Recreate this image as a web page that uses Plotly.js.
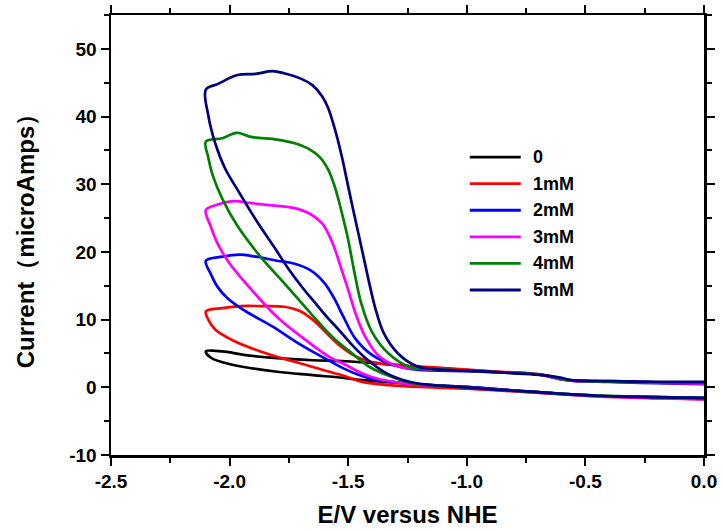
<!DOCTYPE html>
<html>
<head>
<meta charset="utf-8">
<script src="https://cdn.plot.ly/plotly-3.0.1.min.js"></script>
<style>
  html, body { margin: 0; padding: 0; background: #fff; }
  #chart { width: 723px; height: 531px; }
</style>
</head>
<body>
<div id="chart"></div>
<script>
// Cyclic voltammograms: current vs potential for increasing concentration.
// Each loop = cathodic-going branch (0 V -> -2.1 V) + return branch (-2.1 V -> 0 V).

const seriesNames  = ['0', '1mM', '2mM', '3mM', '4mM', '5mM'];
const seriesColors = ['#000000', '#ff0000', '#0000ff', '#ff00ff', '#008000', '#000080'];

// 0
const lowerV0 = [0.0, -0.2, -0.45, -0.73, -1.0, -1.2, -1.3, -1.44, -1.51, -1.65, -1.8, -1.94, -2.03, -2.08, -2.10];
const lowerI0 = [-1.6, -1.45, -1.25, -0.65, 0.05, 0.45, 0.7, 1.05, 1.35, 1.8, 2.3, 3.0, 3.7, 4.4, 5.3];
const upperV0 = [-2.10, -2.03, -1.94, -1.8, -1.65, -1.51, -1.4, -1.3, -1.2, -1.0, -0.86, -0.73, -0.66, -0.6, -0.55, -0.4, -0.2, 0.0];
const upperI0 = [5.3, 5.3, 4.8, 4.3, 4.0, 3.85, 3.6, 3.3, 3.0, 2.55, 2.25, 2.0, 1.7, 1.2, 1.0, 0.9, 0.75, 0.6];

// 1mM
const lowerV1 = [0.0, -0.17, -0.45, -0.73, -1.0, -1.15, -1.3, -1.44, -1.51, -1.61, -1.73, -1.87, -1.99, -2.06, -2.09, -2.10];
const lowerI1 = [-1.8, -1.65, -1.35, -0.75, -0.2, 0.0, 0.25, 0.8, 1.6, 2.6, 3.8, 5.3, 7.0, 8.5, 10.0, 11.2];
const upperV1 = [-2.10, -2.03, -1.95, -1.87, -1.77, -1.70, -1.64, -1.58, -1.53, -1.47, -1.41, -1.3, -1.16, -1.0, -0.86, -0.73, -0.66, -0.6, -0.55, -0.4, -0.2, 0.0];
const upperI1 = [11.2, 11.7, 12.0, 12.0, 11.9, 11.2, 9.7, 7.6, 6.0, 4.6, 3.8, 3.3, 3.0, 2.6, 2.3, 2.05, 1.7, 1.2, 1.0, 0.85, 0.7, 0.55];

// 2mM
const lowerV2 = [0.0, -0.17, -0.45, -0.73, -1.0, -1.2, -1.3, -1.4, -1.46, -1.52, -1.61, -1.71, -1.82, -1.94, -2.01, -2.05, -2.08, -2.10];
const lowerI2 = [-1.55, -1.45, -1.25, -0.65, 0.05, 0.4, 0.75, 1.25, 1.9, 2.8, 4.5, 6.5, 9.0, 11.4, 13.2, 14.8, 16.8, 18.7];
const upperV2 = [-2.10, -2.03, -1.96, -1.89, -1.80, -1.73, -1.66, -1.60, -1.56, -1.52, -1.47, -1.40, -1.31, -1.21, -1.0, -0.86, -0.73, -0.66, -0.6, -0.55, -0.4, -0.2, 0.0];
const upperI2 = [18.7, 19.3, 19.6, 19.3, 18.7, 18.3, 17.3, 15.4, 13.2, 10.4, 7.2, 4.8, 3.3, 2.6, 2.4, 2.2, 2.0, 1.65, 1.15, 0.95, 0.8, 0.6, 0.45];

// 3mM
const lowerV3 = [0.0, -0.17, -0.45, -0.73, -1.0, -1.2, -1.3, -1.38, -1.45, -1.51, -1.58, -1.68, -1.80, -1.91, -2.00, -2.05, -2.08, -2.10];
const lowerI3 = [-1.75, -1.6, -1.3, -0.7, -0.05, 0.35, 0.75, 1.3, 2.2, 3.3, 4.5, 7.0, 10.4, 14.5, 18.3, 21.2, 23.8, 26.2];
const upperV3 = [-2.10, -2.05, -1.98, -1.91, -1.80, -1.73, -1.66, -1.61, -1.58, -1.555, -1.53, -1.50, -1.47, -1.43, -1.37, -1.28, -1.18, -1.0, -0.86, -0.73, -0.66, -0.6, -0.55, -0.4, -0.2, 0.0];
const upperI3 = [26.2, 27.0, 27.5, 27.2, 26.8, 26.5, 25.6, 24.2, 22.4, 20.3, 17.6, 14.4, 11.0, 7.6, 4.6, 3.0, 2.7, 2.45, 2.2, 2.0, 1.7, 1.15, 0.95, 0.85, 0.7, 0.55];

// 4mM
const lowerV4 = [0.0, -0.15, -0.3, -0.5, -0.7, -0.85, -1.0, -1.1, -1.23, -1.32, -1.41, -1.49, -1.56, -1.65, -1.77, -1.87, -1.97, -2.03, -2.07, -2.09, -2.10];
const lowerI4 = [-1.6, -1.5, -1.35, -1.15, -0.75, -0.4, -0.05, 0.2, 0.6, 1.6, 3.0, 5.2, 7.2, 10.6, 15.4, 19.3, 24.0, 27.8, 31.2, 34.0, 36.3];
const upperV4 = [-2.10, -2.03, -1.97, -1.91, -1.80, -1.73, -1.67, -1.62, -1.585, -1.56, -1.54, -1.52, -1.50, -1.475, -1.445, -1.40, -1.33, -1.24, -1.15, -1.0, -0.86, -0.73, -0.66, -0.6, -0.55, -0.4, -0.2, 0.0];
const upperI4 = [36.3, 36.8, 37.6, 37.0, 36.6, 36.1, 35.3, 34.0, 32.2, 30.0, 27.6, 24.8, 21.8, 17.2, 12.4, 8.2, 5.0, 3.0, 2.7, 2.45, 2.2, 2.0, 1.75, 1.2, 1.0, 0.85, 0.75, 0.65];

// 5mM
const lowerV5 = [0.0, -0.17, -0.3, -0.45, -0.6, -0.73, -0.9, -1.04, -1.16, -1.25, -1.34, -1.42, -1.49, -1.54, -1.59, -1.64, -1.69, -1.75, -1.81, -1.89, -1.96, -2.02, -2.06, -2.09, -2.10];
const lowerI5 = [-1.6, -1.5, -1.4, -1.25, -0.95, -0.65, -0.3, 0.05, 0.35, 0.9, 2.1, 4.1, 6.5, 8.5, 10.4, 12.5, 14.6, 17.4, 20.6, 24.8, 28.8, 32.4, 36.0, 40.2, 44.0];
const upperV5 = [-2.10, -2.05, -1.97, -1.89, -1.82, -1.77, -1.70, -1.65, -1.61, -1.585, -1.565, -1.545, -1.525, -1.505, -1.485, -1.46, -1.435, -1.41, -1.385, -1.35, -1.29, -1.21, -1.13, -1.015, -0.9, -0.8, -0.68, -0.6, -0.566, -0.38, -0.17, 0.0];
const upperI5 = [44.0, 44.8, 46.1, 46.3, 46.7, 46.4, 45.6, 44.6, 43.0, 41.3, 39.2, 36.7, 33.8, 30.5, 27.2, 23.2, 19.2, 15.2, 11.6, 8.0, 5.0, 3.1, 2.65, 2.45, 2.3, 2.07, 1.8, 1.4, 1.1, 0.9, 0.8, 0.8];

// Axis tick labels (hyphen-minus, as printed)
const xTickVals = [-2.5, -2.0, -1.5, -1.0, -0.5, 0.0];
const xTickText = ['-2.5', '-2.0', '-1.5', '-1.0', '-0.5', '0.0'];
const yTickVals = [-10, 0, 10, 20, 30, 40, 50];
const yTickText = ['-10', '0', '10', '20', '30', '40', '50'];

const lowers = [[lowerV0, lowerI0], [lowerV1, lowerI1], [lowerV2, lowerI2], [lowerV3, lowerI3], [lowerV4, lowerI4], [lowerV5, lowerI5]];
const uppers = [[upperV0, upperI0], [upperV1, upperI1], [upperV2, upperI2], [upperV3, upperI3], [upperV4, upperI4], [upperV5, upperI5]];

const traces = seriesNames.map((name, k) => ({
  type: 'scatter',
  mode: 'lines',
  name: name,
  x: lowers[k][0].concat(uppers[k][0].slice(1)),
  y: lowers[k][1].concat(uppers[k][1].slice(1)),
  line: { color: seriesColors[k], width: 2.7, shape: 'spline', smoothing: 1.0 },
  showlegend: false,
  hoverinfo: 'skip'
}));

const boldFont = (size) => ({ family: 'Liberation Sans, Arial, sans-serif', size: size, color: '#000', weight: 'bold' });

// Hand-placed legend: long line swatches with bold labels
const legendShapes = [];
const legendNotes = [];
const lgX0 = 0.605, lgX1 = 0.691, lgTextX = 0.708, lgTop = 0.677, lgStep = 0.0604;
seriesNames.forEach((name, k) => {
  const yy = lgTop - k * lgStep;
  legendShapes.push({
    type: 'line', xref: 'paper', yref: 'paper',
    x0: lgX0, x1: lgX1, y0: yy, y1: yy,
    line: { color: seriesColors[k], width: 2.8 }
  });
  legendNotes.push({
    xref: 'paper', yref: 'paper', x: lgTextX, y: yy,
    xanchor: 'left', yanchor: 'middle', showarrow: false,
    text: name, font: boldFont(18)
  });
});

const axisCommon = {
  showline: true, linewidth: 2.5, linecolor: '#000', mirror: 'ticks',
  ticks: 'outside', ticklen: 8, tickwidth: 2, tickcolor: '#000',
  showgrid: false, zeroline: false, tickmode: 'array',
  tickfont: boldFont(19)
};

const layout = {
  width: 723, height: 531,
  margin: { l: 111, r: 19, t: 15, b: 76 },
  paper_bgcolor: '#fff', plot_bgcolor: '#fff',
  xaxis: Object.assign({}, axisCommon, {
    range: [-2.5, 0], tickvals: xTickVals, ticktext: xTickText,
    minor: { tickmode: 'linear', tick0: -2.5, dtick: 0.25, ticks: 'outside', ticklen: 5, tickwidth: 2, tickcolor: '#000' },
    title: { text: 'E/V versus NHE', font: boldFont(24), standoff: 15 }
  }),
  yaxis: Object.assign({}, axisCommon, {
    range: [-10, 55], tickvals: yTickVals, ticktext: yTickText,
    minor: { tickmode: 'linear', tick0: -10, dtick: 5, ticks: 'outside', ticklen: 5, tickwidth: 2, tickcolor: '#000' },
    title: { text: 'Current（microAmps）', font: boldFont(24), standoff: 28 }
  }),
  shapes: legendShapes,
  annotations: legendNotes,
  showlegend: false
};

Plotly.newPlot('chart', traces, layout, { staticPlot: true, displayModeBar: false });
</script>
</body>
</html>
